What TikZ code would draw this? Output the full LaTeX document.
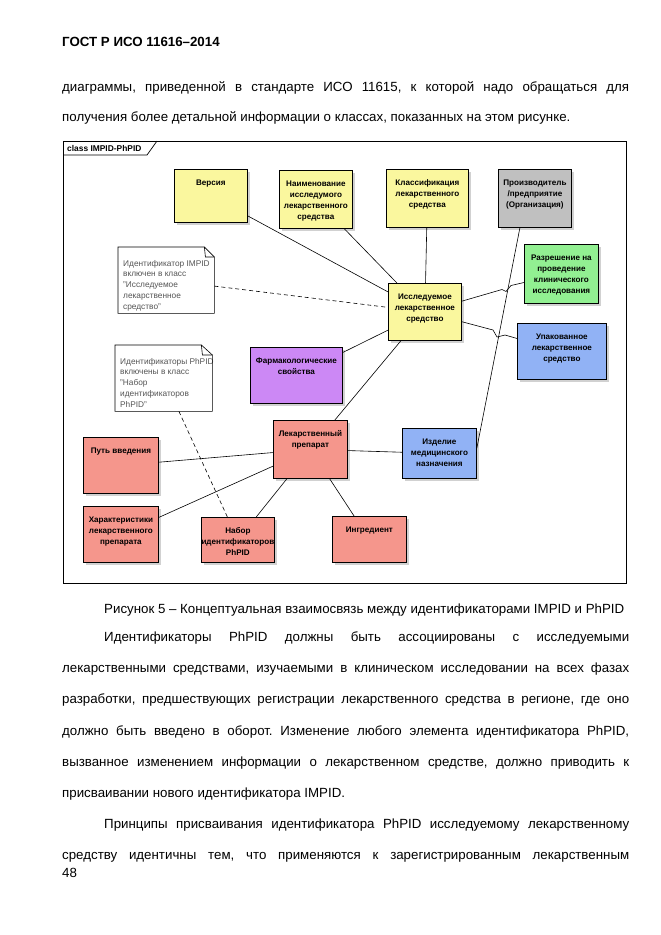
\documentclass[tikz,border=0pt]{standalone}
\usepackage{fontspec}
\setmainfont{Liberation Sans}
\usepackage{tikz}
\usetikzlibrary{shadows}
\usepackage{xcolor}
\frenchspacing

\definecolor{clsyellow}{RGB}{250,247,158}
\definecolor{clsgray}{RGB}{192,192,192}
\definecolor{clsgreen}{RGB}{146,240,146}
\definecolor{clsblue}{RGB}{145,178,245}
\definecolor{clspurple}{RGB}{204,136,245}
\definecolor{clssalmon}{RGB}{245,150,140}
\definecolor{notegray}{RGB}{85,85,85}

\newcommand{\clsfont}{\fontsize{8.1}{11}\selectfont\bfseries}
\newcommand{\tabfont}{\fontsize{8.4}{10}\selectfont\bfseries}
\newcommand{\notefont}{\fontsize{8.3}{10.8}\selectfont}
\newcommand{\bodyfont}{\fontsize{13.3}{16}\selectfont}
% box text: width, height, lines
\newcommand{\clstext}[3]{\parbox[c][#2pt][t]{#1pt}{\centering\rule{0pt}{15.8pt}#3}}
\newcommand{\notetext}[3]{\parbox[c][#2pt][t]{#1pt}{\raggedright\leftskip=5pt\rule{0pt}{18.8pt}#3}}
\newcommand{\jline}[2]{\makebox[#1pt][s]{#2}}

\begin{document}
\begin{tikzpicture}[x=1pt, y=-1pt,
    cls/.style={draw=black, line width=0.8pt, inner sep=0pt, anchor=north west, font=\clsfont,
      drop shadow={shadow xshift=3pt, shadow yshift=-3pt, fill=black!18, opacity=1}},
    note/.style={fill=white, inner sep=0pt, anchor=north west, font=\notefont, text=notegray},
    notebord/.style={line width=0.6pt},
    link/.style={line width=0.6pt},
    notelink/.style={line width=0.6pt, dash pattern=on 4pt off 3pt},
    txt/.style={inner sep=0pt, anchor=base west, font=\bodyfont}]
  \useasboundingbox[fill=white] (0,0) rectangle (661,935);

  % Page text
  \node[txt, font=\bodyfont\bfseries] (hdr) at (62,46.7) {ГОСТ Р ИСО 11616–2014};
  \node[txt] (l1) at (62,91.5) {\jline{567}{диаграммы, приведенной в стандарте ИСО 11615, к которой надо обращаться для}};
  \node[txt] (l2) at (62,121.5) {получения более детальной информации о классах, показанных на этом рисунке.};

  % Frame
  \draw[line width=0.7pt] (63,141) rectangle (626,583);
  \draw[line width=0.7pt] (63,155) -- (147,155) -- (157,141);
  \node[inner sep=0pt, anchor=west, font=\tabfont] (tab) at (67,148) {class IMPID-PhPID};

  % Classes
  \node[cls, fill=clsyellow] (ver) at (174,169) {\clstext{73}{53}{Версия}};
  \node[cls, fill=clsyellow] (name) at (279,170) {\clstext{73}{58}{Наименование\\исследумого\\лекарственного\\средства}};
  \node[cls, fill=clsyellow] (klass) at (386,169) {\clstext{82}{58}{Классификация\\лекарственного\\средства}};
  \node[cls, fill=clsgray] (manuf) at (498,169) {\clstext{73}{58}{Производитель\\/предприятие\\(Организация)}};
  \node[cls, fill=clsgreen] (perm) at (524,244) {\clstext{74}{59}{Разрешение на\\проведение\\клинического\\исследования}};
  \node[cls, fill=clsyellow] (imp) at (388,283) {\clstext{73}{57}{Исследуемое\\лекарственное\\средство}};
  \node[cls, fill=clsblue] (pack) at (517,323) {\clstext{89}{56}{Упакованное\\лекарственное\\средство}};
  \node[cls, fill=clspurple] (pharm) at (250,347) {\clstext{92}{56}{Фармакологические\\свойства}};
  \node[cls, fill=clssalmon] (drug) at (273,420) {\clstext{74}{58}{Лекарственный\\препарат}};
  \node[cls, fill=clsblue] (device) at (402,428) {\clstext{74}{50}{Изделие\\медицинского\\назначения}};
  \node[cls, fill=clssalmon] (route) at (83,437) {\clstext{75}{56}{Путь введения}};
  \node[cls, fill=clssalmon] (char) at (83,506) {\clstext{75}{56}{Характеристики\\лекарственного\\препарата}};
  \node[cls, fill=clssalmon] (idset) at (201,517) {\clstext{73}{45}{Набор\\идентификаторов\\PhPID}};
  \node[cls, fill=clssalmon] (ingr) at (332,516) {\clstext{74}{46}{Ингредиент}};

  % Notes
  \node[note] (noteA) at (118,247) {\notetext{96}{66}{\mbox{Идентификатор IMPID}\\включен в класс\\"Исследуемое\\лекарственное\\средство"}};
  \node[note] (noteB) at (115,345) {\notetext{97}{66}{\mbox{Идентификаторы PhPID}\\включены в класс\\"Набор\\идентификаторов\\PhPID"}};
  \draw[notebord] (noteA.north west) -- ([xshift=-10pt]noteA.north east) -- ([yshift=-10pt]noteA.north east)
    -- (noteA.south east) -- (noteA.south west) -- cycle;
  \draw[notebord] ([xshift=-10pt]noteA.north east) -- ([xshift=-9pt,yshift=-10pt]noteA.north east) -- ([yshift=-10pt]noteA.north east);
  \draw[notebord] (noteB.north west) -- ([xshift=-11pt]noteB.north east) -- ([yshift=-10pt]noteB.north east)
    -- (noteB.south east) -- (noteB.south west) -- cycle;
  \draw[notebord] ([xshift=-11pt]noteB.north east) -- ([xshift=-10pt,yshift=-10pt]noteB.north east) -- ([yshift=-10pt]noteB.north east);

  % Associations
  \draw[link] (ver) -- (imp);
  \draw[link] (name) -- (imp);
  \draw[link] (klass) -- (imp);
  \draw[link] (pharm) -- (imp);
  \draw[link] (drug) -- (imp);
  \draw[link] (imp) -- (502,289.5) -- (506,291.5) -- (511,285.5) -- (perm);
  \draw[link] (imp) -- (493,330) -- (497,337) -- (505,335) -- (pack);
  \draw[link] ([xshift=-15pt]manuf.south) -- ([yshift=5pt]device.east);
  \draw[link] (drug) -- (device);
  \draw[link] (route) -- (drug);
  \draw[link] (char) -- (drug);
  \draw[link] (idset) -- (drug);
  \draw[link] (ingr) -- (drug);
  \draw[notelink] (noteA) -- (imp);
  \draw[notelink] (noteB) -- (idset);

  % Text after the figure
  \node[txt] (cap) at (104,613.5) {Рисунок 5 – Концептуальная взаимосвязь между идентификаторами IMPID и PhPID};
  \node[txt] (p1) at (104,641.5) {\jline{525}{Идентификаторы PhPID должны быть ассоциированы с исследуемыми}};
  \node[txt] (p2) at (62,672.5) {\jline{567}{лекарственными средствами, изучаемыми в клиническом исследовании на всех фазах}};
  \node[txt] (p3) at (62,703.5) {\jline{567}{разработки, предшествующих регистрации лекарственного средства в регионе, где оно}};
  \node[txt] (p4) at (62,735.5) {\jline{567}{должно быть введено в оборот. Изменение любого элемента идентификатора PhPID,}};
  \node[txt] (p5) at (62,766.5) {\jline{567}{вызванное изменением информации о лекарственном средстве, должно приводить к}};
  \node[txt] (p6) at (62,797.5) {присваивании нового идентификатора IMPID.};
  \node[txt] (q1) at (104,828.5) {\jline{525}{Принципы присваивания идентификатора PhPID исследуемому лекарственному}};
  \node[txt] (q2) at (62,859.5) {\jline{567}{средству идентичны тем, что применяются к зарегистрированным лекарственным}};
  \node[txt] (pg) at (62,877.7) {48};
\end{tikzpicture}
\end{document}
